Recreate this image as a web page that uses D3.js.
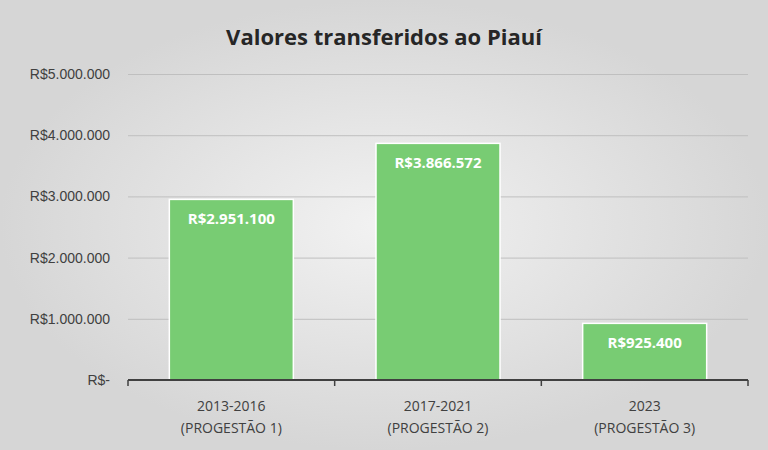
<!DOCTYPE html>
<meta charset="utf-8">
<style>
body { margin: 0; }
svg { font-family: 'Open Sans', sans-serif; }
</style>
<svg id="chart" width="768" height="450"></svg>
<script src="https://d3js.org/d3.v7.min.js"></script>
<script>
const categories = ["2013-2016|(PROGESTÃO 1)", "2017-2021|(PROGESTÃO 2)", "2023|(PROGESTÃO 3)"];
const values = [2951100, 3866572, 925400];
const yTicks = [0, 1000000, 2000000, 3000000, 4000000, 5000000];

var svg = d3.select("#chart"),
    width = 768, height = 450,
    margin = {left: 128, right: 20, top: 74, bottom: 70};

var grad = svg.append("defs").append("radialGradient").attr("id", "bg");
grad.append("stop").attr("offset", "0%").attr("stop-color", "#f2f2f2");
grad.append("stop").attr("offset", "100%").attr("stop-color", "#d6d6d6");
svg.append("rect").attr("width", width).attr("height", height).attr("fill", "url(#bg)");

var br = d3.formatLocale({decimal: ",", thousands: ".", grouping: [3], currency: ["R$", ""]});
var fmt = function(v) { return v === 0 ? "R$-" : "R$" + br.format(",")(v); };

var x = d3.scaleBand().domain(categories).range([margin.left, width - margin.right]).paddingInner(0.4).paddingOuter(0.2);
var y = d3.scaleLinear().domain([0, 5000000]).range([height - margin.bottom, margin.top]);

svg.append("text").attr("x", 384).attr("y", 45).attr("text-anchor", "middle")
  .attr("font-size", 22).attr("font-weight", "bold").attr("fill", "#262626")
  .text("Valores transferidos ao Piauí");

var yAxis = svg.append("g").attr("transform", "translate(" + margin.left + ",0)")
  .call(d3.axisLeft(y).tickValues(yTicks).tickFormat(fmt).tickSize(-(width - margin.left - margin.right)).tickPadding(18));
yAxis.select(".domain").remove();
yAxis.selectAll("line").attr("stroke", "#bfbfbf");
yAxis.selectAll("text").attr("font-size", 14).attr("fill", "#404040");

svg.selectAll(".bar").data(values).enter().append("rect")
  .attr("x", function(d, i) { return x(categories[i]); })
  .attr("y", function(d) { return y(d); })
  .attr("width", x.bandwidth())
  .attr("height", function(d) { return y(0) - y(d); })
  .attr("fill", "#78cc73").attr("stroke", "#ffffff").attr("stroke-width", 1.5);

svg.selectAll(".lbl").data(values).enter().append("text")
  .attr("x", function(d, i) { return x(categories[i]) + x.bandwidth() / 2; })
  .attr("y", function(d) { return y(d) + 25; })
  .attr("text-anchor", "middle").attr("font-size", 15).attr("font-weight", "bold").attr("fill", "#fff")
  .text(fmt);

var xAxis = svg.append("g").attr("transform", "translate(0," + y(0) + ")")
  .call(d3.axisBottom(x).tickSize(0).tickFormat(""));
xAxis.select(".domain").attr("stroke", "#404040").attr("stroke-width", 2)
  .attr("d", "M" + margin.left + ",0H" + (width - margin.right));
var step = x.step();
[0, 1, 2, 3].forEach(function(i) {
  var xx = margin.left + i * (width - margin.left - margin.right) / 3;
  xAxis.append("line").attr("x1", xx).attr("x2", xx).attr("y1", 0).attr("y2", 6).attr("stroke", "#404040").attr("stroke-width", 1.5);
});
categories.forEach(function(c) {
  var t = svg.append("text").attr("text-anchor", "middle").attr("font-size", 14).attr("fill", "#404040");
  c.split("|").forEach(function(line, j) {
    t.append("tspan").attr("x", x(c) + x.bandwidth() / 2).attr("y", 411 + j * 22).text(line);
  });
});
</script>
